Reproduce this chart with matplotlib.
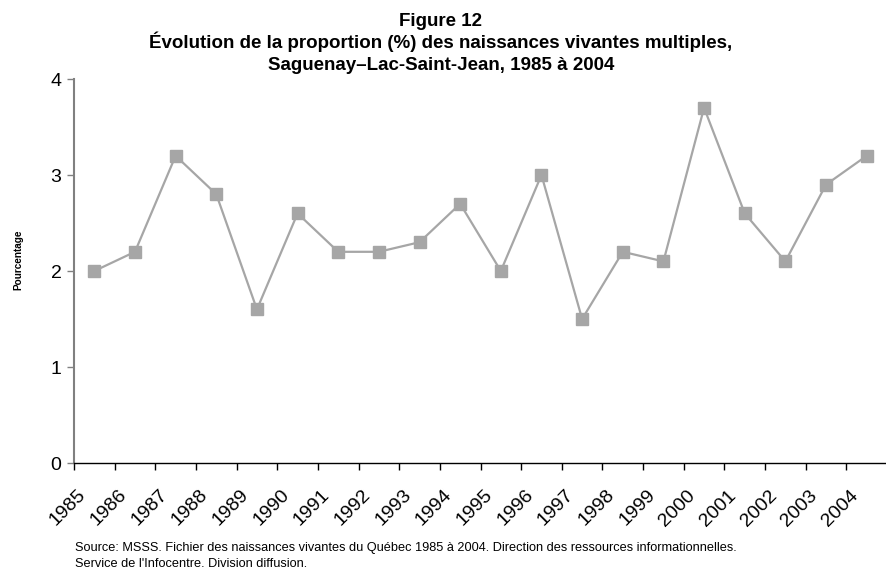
import matplotlib.pyplot as plt
import matplotlib.transforms as mtransforms
import numpy as np

plt.rcParams['font.family'] = ['Liberation Sans', 'DejaVu Sans']

years = [str(y) for y in range(1985, 2005)]
proportion = [2.0, 2.2, 3.2, 2.8, 1.6, 2.6, 2.2, 2.2, 2.3, 2.7,
              2.0, 3.0, 1.5, 2.2, 2.1, 3.7, 2.6, 2.1, 2.9, 3.2]
y_ticks = [0, 1, 2, 3, 4]

title_lines = ["Figure 12",
               "Évolution de la proportion (%) des naissances vivantes multiples,",
               "Saguenay–Lac-Saint-Jean, 1985 à 2004"]
source = ("Source: MSSS. Fichier des naissances vivantes du Québec 1985 à 2004. "
          "Direction des ressources informationnelles.\n"
          "Service de l'Infocentre. Division diffusion.")

fig = plt.figure(figsize=(8.87, 5.72), dpi=100)
ax = fig.add_axes([74 / 887, 109 / 572, 1 - 74 / 887, 384 / 572])

x = np.arange(len(years))
ax.plot(x, proportion, color='#a6a6a6', linewidth=1.6,
        marker='s', markersize=8.5, markerfacecolor='#a6a6a6',
        markeredgecolor='#a6a6a6')

ax.set_xlim(-0.5, len(years) - 0.5)
ax.set_ylim(0, 4)
ax.set_yticks(y_ticks)
ax.set_yticklabels([str(t) for t in y_ticks], fontsize=14)
ax.tick_params(axis='y', direction='out', length=5, width=1, color='#808080', pad=4)

# category labels at centres, tick marks at category boundaries
ax.set_xticks(x)
ax.set_xticklabels(years, fontsize=14, rotation=45, ha='right', va='top')
ax.tick_params(axis='x', which='major', length=0, pad=17)
shift = mtransforms.ScaledTranslation(-5 / 100, 0, fig.dpi_scale_trans)
for lbl in ax.get_xticklabels():
    lbl.set_transform(lbl.get_transform() + shift)
ax.set_xticks(np.arange(-0.5, len(years) - 1, 1), minor=True)
ax.tick_params(axis='x', which='minor', direction='out', length=5, width=1,
               color='black')

for side in ['top', 'right']:
    ax.spines[side].set_visible(False)
ax.spines['left'].set_color('#808080')
ax.spines['left'].set_linewidth(1.5)
ax.spines['bottom'].set_color('black')
ax.spines['bottom'].set_linewidth(1)

baselines = [26, 48, 70]
for line, base in zip(title_lines, baselines):
    fig.text(0.497, 1 - base / 572, line, ha='center', va='baseline',
             fontsize=13.5, fontweight='bold')
fig.text(18 / 887, 1 - 260 / 572, 'Pourcentage', rotation=90, ha='center',
         va='center', fontsize=7.2, fontweight='bold')
fig.text(75 / 887, 1 - 542 / 572, source, ha='left', va='top', fontsize=9.2,
         linespacing=1.4)

fig.savefig('out.png', dpi=100)
